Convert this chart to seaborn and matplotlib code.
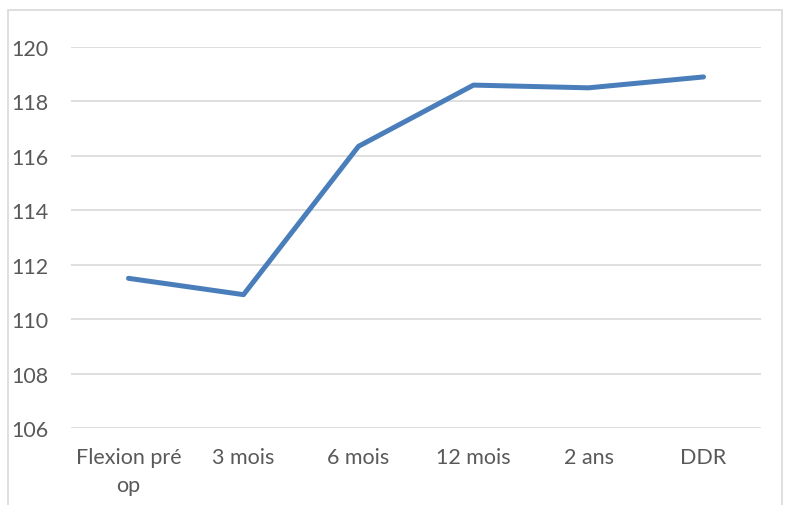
import matplotlib
matplotlib.use("Agg")
import matplotlib.pyplot as plt
import matplotlib.patches as patches
import seaborn as sns
import pandas as pd

categories = ["Flexion pré\nop", "3 mois", "6 mois", "12 mois", "2 ans", "DDR"]
values = [111.5, 110.9, 116.35, 118.6, 118.5, 118.9]
y_ticks = [106, 108, 110, 112, 114, 116, 118, 120]

sns.set_style("white")
plt.rcParams["font.family"] = ["Lato", "DejaVu Sans"]

df = pd.DataFrame({"stage": categories, "value": values})

fig = plt.figure(figsize=(7.87, 5.06), dpi=100)
ax = fig.add_axes([71 / 787, 1 - 429 / 506, 690 / 787, 381 / 506])

sns.lineplot(data=df, x="stage", y="value", sort=False, ax=ax,
             color="#4a7ebb", linewidth=3.6, solid_capstyle="round")

ax.set_xlim(-0.5, len(categories) - 0.5)
ax.set_ylim(106, 120)
ax.set_yticks(y_ticks)
ax.yaxis.grid(True, color="#d9d9d9", linewidth=1.2)
ax.set_axisbelow(True)
for s in ax.spines.values():
    s.set_visible(False)
ax.tick_params(axis="both", length=0, labelsize=15.5, labelcolor="#595959")
ax.tick_params(axis="y", pad=16)
ax.tick_params(axis="x", pad=14)
for lbl in ax.get_xticklabels():
    lbl.set_linespacing(1.45)
ax.set_xlabel("")
ax.set_ylabel("")

# chart border
fig.patches.append(patches.Rectangle((8 / 787, -0.05), 774 / 787, 1 - 11 / 506 + 0.05,
                                     transform=fig.transFigure, fill=False,
                                     edgecolor="#d9d9d9", linewidth=1.2))

fig.savefig("out.png", dpi=100)
